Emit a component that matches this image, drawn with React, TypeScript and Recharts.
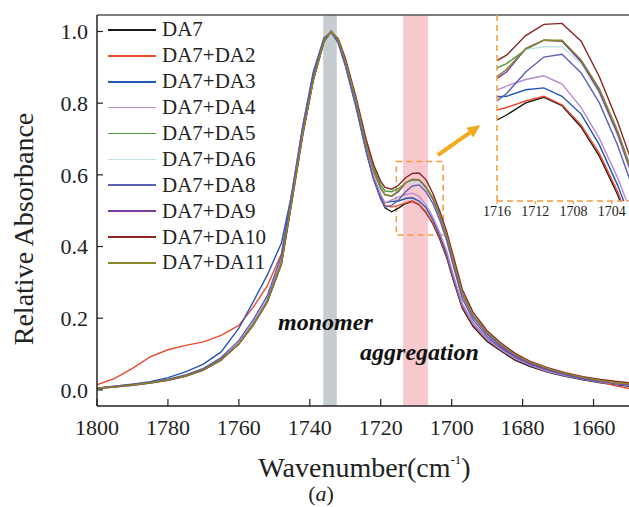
import { LineChart, Line, XAxis, YAxis, ReferenceArea, ReferenceLine, ReferenceDot } from 'recharts';

const FONT = 'Liberation Serif, Times New Roman, DejaVu Serif, serif';

// wavenumber grid (cm-1)
const wavenumbers = [
  1800, 1795, 1790, 1785, 1780, 1775, 1770, 1765, 1760, 1756, 1752, 1748, 1745, 1742, 1739, 1736,
  1734, 1732, 1730, 1727, 1724, 1722, 1720, 1718.8, 1716.9, 1715.0, 1713.0, 1711.1, 1709.2, 1707.2,
  1705.3, 1703.4, 1701.5, 1699.5, 1697, 1694, 1690, 1686, 1682, 1678, 1673, 1668, 1663, 1658, 1654, 1650,
];

const da7 = [
  0.004, 0.008, 0.013, 0.019, 0.027, 0.038, 0.055, 0.083, 0.13, 0.185, 0.25, 0.36, 0.54, 0.72, 0.87, 0.975,
  1.0, 0.975, 0.915, 0.8, 0.665, 0.59, 0.535, 0.508, 0.497, 0.507, 0.52, 0.526, 0.517, 0.494,
  0.463, 0.422, 0.372, 0.305, 0.228, 0.177, 0.135, 0.108, 0.082, 0.066, 0.05, 0.038, 0.028, 0.02, 0.015, 0.01,
];
const da2 = [
  0.014, 0.032, 0.06, 0.092, 0.112, 0.124, 0.134, 0.152, 0.18, 0.23, 0.29, 0.38, 0.545, 0.72, 0.868, 0.972,
  1.0, 0.973, 0.913, 0.8, 0.667, 0.594, 0.54, 0.515, 0.51, 0.515, 0.522, 0.527, 0.518, 0.496,
  0.466, 0.425, 0.376, 0.31, 0.233, 0.182, 0.14, 0.111, 0.086, 0.069, 0.052, 0.04, 0.03, 0.021, 0.012, 0.004,
];
const da3 = [
  0.005, 0.01, 0.016, 0.023, 0.034, 0.05, 0.072, 0.106, 0.172, 0.245, 0.32, 0.41, 0.55, 0.735, 0.888, 0.982,
  0.998, 0.968, 0.905, 0.79, 0.66, 0.588, 0.538, 0.522, 0.526, 0.527, 0.534, 0.536, 0.527, 0.508,
  0.475, 0.432, 0.382, 0.314, 0.238, 0.186, 0.143, 0.114, 0.088, 0.07, 0.053, 0.04, 0.03, 0.022, 0.017, 0.012,
];
const da4 = [
  0.005, 0.009, 0.014, 0.02, 0.028, 0.039, 0.056, 0.084, 0.131, 0.186, 0.252, 0.362, 0.54, 0.72, 0.87, 0.975,
  1.0, 0.975, 0.915, 0.802, 0.668, 0.596, 0.545, 0.522, 0.53, 0.538, 0.545, 0.549, 0.54, 0.515,
  0.482, 0.44, 0.39, 0.32, 0.24, 0.186, 0.142, 0.112, 0.087, 0.069, 0.052, 0.04, 0.03, 0.022, 0.017, 0.013,
];
const da5 = [
  0.005, 0.009, 0.014, 0.02, 0.028, 0.04, 0.057, 0.085, 0.128, 0.18, 0.245, 0.352, 0.53, 0.712, 0.865, 0.972,
  1.0, 0.978, 0.922, 0.812, 0.685, 0.618, 0.572, 0.555, 0.553, 0.562, 0.577, 0.587, 0.586, 0.565,
  0.535, 0.49, 0.435, 0.36, 0.268, 0.207, 0.158, 0.124, 0.097, 0.077, 0.059, 0.045, 0.034, 0.025, 0.019, 0.016,
];
const da6 = [
  0.005, 0.009, 0.014, 0.02, 0.028, 0.039, 0.056, 0.084, 0.13, 0.184, 0.25, 0.358, 0.536, 0.716, 0.868, 0.974,
  1.0, 0.977, 0.92, 0.808, 0.678, 0.608, 0.56, 0.542, 0.542, 0.555, 0.577, 0.58, 0.58, 0.562,
  0.53, 0.485, 0.43, 0.355, 0.263, 0.202, 0.154, 0.12, 0.093, 0.074, 0.056, 0.043, 0.032, 0.023, 0.018, 0.014,
];
const da8 = [
  0.005, 0.01, 0.015, 0.021, 0.03, 0.042, 0.06, 0.09, 0.138, 0.195, 0.262, 0.375, 0.555, 0.735, 0.882, 0.98,
  0.998, 0.97, 0.908, 0.794, 0.662, 0.586, 0.532, 0.51, 0.515, 0.53, 0.553, 0.569, 0.572, 0.552,
  0.52, 0.475, 0.42, 0.345, 0.255, 0.196, 0.149, 0.117, 0.091, 0.072, 0.055, 0.042, 0.031, 0.023, 0.018, 0.014,
];
const da9 = [
  0.005, 0.009, 0.014, 0.02, 0.028, 0.039, 0.056, 0.084, 0.129, 0.183, 0.248, 0.356, 0.535, 0.715, 0.867, 0.974,
  1.0, 0.977, 0.92, 0.81, 0.68, 0.61, 0.562, 0.545, 0.54, 0.553, 0.578, 0.587, 0.586, 0.564,
  0.532, 0.487, 0.432, 0.357, 0.266, 0.205, 0.156, 0.122, 0.095, 0.075, 0.057, 0.044, 0.033, 0.024, 0.018, 0.015,
];
const da10 = [
  0.005, 0.009, 0.014, 0.02, 0.028, 0.039, 0.056, 0.084, 0.128, 0.18, 0.245, 0.35, 0.528, 0.71, 0.864, 0.972,
  1.0, 0.98, 0.926, 0.818, 0.695, 0.628, 0.582, 0.565, 0.56, 0.571, 0.592, 0.604, 0.605, 0.586,
  0.548, 0.5, 0.445, 0.372, 0.28, 0.217, 0.165, 0.13, 0.101, 0.08, 0.062, 0.048, 0.037, 0.029, 0.024, 0.02,
];
const da11 = [
  0.005, 0.009, 0.014, 0.02, 0.028, 0.039, 0.056, 0.084, 0.128, 0.181, 0.246, 0.353, 0.532, 0.713, 0.866, 0.973,
  1.0, 0.977, 0.92, 0.81, 0.68, 0.61, 0.562, 0.545, 0.541, 0.556, 0.578, 0.587, 0.587, 0.566,
  0.535, 0.49, 0.435, 0.36, 0.27, 0.209, 0.16, 0.126, 0.098, 0.078, 0.06, 0.046, 0.035, 0.026, 0.02, 0.017,
];

const seriesList = [
  { key: 'da7', name: 'DA7', color: '#1a1a1a', values: da7 },
  { key: 'da2', name: 'DA7+DA2', color: '#ec4a2e', values: da2 },
  { key: 'da3', name: 'DA7+DA3', color: '#2356b4', values: da3 },
  { key: 'da4', name: 'DA7+DA4', color: '#b98bd3', values: da4 },
  { key: 'da5', name: 'DA7+DA5', color: '#4f9a3f', values: da5 },
  { key: 'da6', name: 'DA7+DA6', color: '#bde2e6', values: da6 },
  { key: 'da8', name: 'DA7+DA8', color: '#5a60b2', values: da8 },
  { key: 'da9', name: 'DA7+DA9', color: '#7b3d9f', values: da9 },
  { key: 'da10', name: 'DA7+DA10', color: '#8c2424', values: da10 },
  { key: 'da11', name: 'DA7+DA11', color: '#8b882c', values: da11 },
];

const chartData = wavenumbers.map((w, i) => {
  const row: Record<string, number> = { w };
  seriesList.forEach((s) => {
    row[s.key] = s.values[i];
  });
  return row;
});

const xTicks = [1800, 1780, 1760, 1740, 1720, 1700, 1680, 1660];
const yTicks = [0, 0.2, 0.4, 0.6, 0.8, 1.0];
const insetTicks = [1716, 1712, 1708, 1704];

const ORANGE = '#f29c3a';

function ArrowShape(props: any) {
  const { x1, y1, x2, y2 } = props;
  const ang = Math.atan2(y2 - y1, x2 - x1);
  const len = 13;
  const bx = x2 - len * Math.cos(ang);
  const by = y2 - len * Math.sin(ang);
  const px = 6 * Math.sin(ang);
  const py = -6 * Math.cos(ang);
  return (
    <g>
      <line x1={x1} y1={y1} x2={bx} y2={by} stroke="#f5aa1e" strokeWidth={4} />
      <polygon points={`${x2},${y2} ${bx + px},${by + py} ${bx - px},${by - py}`} fill="#f5aa1e" />
    </g>
  );
}

function annotation(text: string) {
  return (props: any) => (
    <text
      x={props.cx}
      y={props.cy}
      textAnchor="middle"
      style={{ fontFamily: FONT, fontSize: 24, fontStyle: 'italic', fontWeight: 'bold' }}
      fill="#111"
    >
      {text}
    </text>
  );
}

export default function App() {
  return (
    <div style={{ position: 'absolute', left: 0, top: 0, width: 629, height: 507, background: '#fff', fontFamily: FONT }}>
      <LineChart
        width={629}
        height={507}
        data={chartData}
        margin={{ top: 15, right: 0, bottom: 0, left: 0 }}
        style={{ fontFamily: FONT }}
      >
        <ReferenceArea x1={1736.2} x2={1732.4} fill="#c6cdd1" fillOpacity={1} stroke="none" />
        <ReferenceArea x1={1713.7} x2={1706.7} fill="#f7c9cf" fillOpacity={1} stroke="none" />
        <XAxis
          dataKey="w"
          type="number"
          domain={[1650, 1800]}
          reversed
          allowDataOverflow
          ticks={xTicks}
          height={101}
          axisLine={{ stroke: '#222', strokeWidth: 1.5 }}
          tickLine={{ stroke: '#222', strokeWidth: 1.2 }}
          tickSize={-7}
          tickMargin={20}
          tick={{ fill: '#222', fontSize: 22, style: { fontFamily: FONT } }}
        />
        <YAxis
          type="number"
          domain={[-0.045, 1.046]}
          allowDataOverflow
          ticks={yTicks}
          width={97}
          tickFormatter={(v: number) => v.toFixed(1)}
          axisLine={{ stroke: '#222', strokeWidth: 1.5 }}
          tickLine={{ stroke: '#222', strokeWidth: 1.2 }}
          tickSize={-6}
          tickMargin={15}
          tick={{ fill: '#222', fontSize: 22, style: { fontFamily: FONT } }}
        />
        <ReferenceLine y={1.046} stroke="#555" strokeWidth={1.5} />
        {seriesList.map((s) => (
          <Line
            key={s.key}
            type="linear"
            dataKey={s.key}
            name={s.name}
            stroke={s.color}
            strokeWidth={1.4}
            dot={false}
            isAnimationActive={false}
          />
        ))}
        <ReferenceArea
          x1={1715.6}
          x2={1702.4}
          y1={0.432}
          y2={0.637}
          fill="none"
          stroke={ORANGE}
          strokeWidth={1.5}
          strokeDasharray="6 4"
        />
        <ReferenceLine
          segment={[
            { x: 1703.9, y: 0.655 },
            { x: 1691.9, y: 0.739 },
          ]}
          shape={ArrowShape}
          ifOverflow="visible"
        />
        <ReferenceDot x={1735.6} y={0.167} r={0} shape={annotation('monomer')} />
        <ReferenceDot x={1709.1} y={0.083} r={0} shape={annotation('aggregation')} />
      </LineChart>

      {/* zoomed inset */}
      <div style={{ position: 'absolute', left: 477, top: 0 }}>
        <LineChart
          width={152}
          height={230}
          data={chartData}
          margin={{ top: 15, right: 0, bottom: 0, left: 0 }}
          style={{ fontFamily: FONT }}
        >
          <XAxis
            dataKey="w"
            type="number"
            domain={[1702.2, 1716]}
            reversed
            allowDataOverflow
            ticks={insetTicks}
            height={29}
            axisLine={{ stroke: ORANGE, strokeWidth: 1.5, strokeDasharray: '6 4' }}
            tickLine={{ stroke: ORANGE, strokeWidth: 1.2 }}
            tickSize={3}
            tickMargin={2}
            tick={{ fill: '#222', fontSize: 14, style: { fontFamily: FONT } }}
          />
          <YAxis
            type="number"
            domain={[0.415, 0.614]}
            allowDataOverflow
            width={20}
            tick={false}
            tickLine={false}
            axisLine={{ stroke: ORANGE, strokeWidth: 1.5, strokeDasharray: '6 4' }}
          />
          {seriesList.map((s) => (
            <Line
              key={s.key}
              type="linear"
              dataKey={s.key}
              stroke={s.color}
              strokeWidth={1.4}
              dot={false}
              isAnimationActive={false}
            />
          ))}
        </LineChart>
      </div>

      {/* legend */}
      <div style={{ position: 'absolute', left: 108, top: 17 }}>
        {seriesList.map((s) => (
          <div key={s.key} style={{ display: 'flex', alignItems: 'center', height: 25.9 }}>
            <div style={{ width: 48, height: 1.6, background: s.color }} />
            <span style={{ marginLeft: 6, fontSize: 21, lineHeight: '21px', color: '#222' }}>{s.name}</span>
          </div>
        ))}
      </div>

      {/* axis titles */}
      <div
        style={{
          position: 'absolute',
          left: 24,
          top: 229,
          transform: 'translate(-50%, -50%) rotate(-90deg)',
          whiteSpace: 'nowrap',
          fontSize: 28,
          lineHeight: '28px',
          color: '#222',
        }}
      >
        Relative Absorbance
      </div>
      <div
        style={{
          position: 'absolute',
          left: 0,
          width: 729,
          top: 454,
          textAlign: 'center',
          fontSize: 28,
          lineHeight: '28px',
          color: '#222',
        }}
      >
        Wavenumber(cm<span style={{ fontSize: 13, position: 'relative', top: -13 }}>-1</span>)
      </div>
      <div
        style={{
          position: 'absolute',
          left: 0,
          width: 642,
          top: 483,
          textAlign: 'center',
          fontSize: 22,
          lineHeight: '22px',
          color: '#222',
        }}
      >
        (<i>a</i>)
      </div>
    </div>
  );
}
